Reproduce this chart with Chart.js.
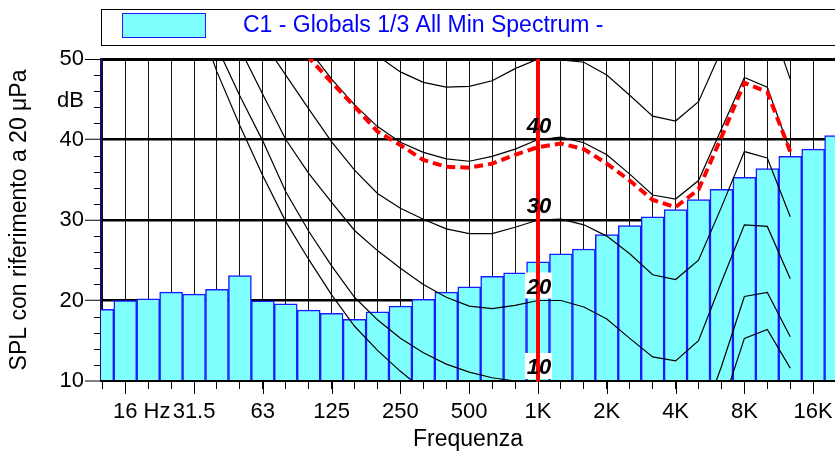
<!DOCTYPE html>
<html><head><meta charset="utf-8">
<script src="https://cdn.jsdelivr.net/npm/chart.js@4"></script>
<style>html,body{margin:0;padding:0;background:#fff;overflow:hidden}canvas{display:block}</style>
</head><body>
<canvas id="c" width="835" height="453"></canvas>
<script>
// ---- data (band index: 0 = 1 kHz, one step = 1/3 octave) ----
const barBands = [-19,-18,-17,-16,-15,-14,-13,-12,-11,-10,-9,-8,-7,-6,-5,-4,-3,-2,-1,0,1,2,3,4,5,6,7,8,9,10,11,12,13];
const barValues = [18.9,20.0,20.2,21.05,20.8,21.4,23.1,19.95,19.6,18.8,18.4,17.65,18.6,19.3,20.15,21.05,21.7,23.0,23.45,24.8,25.8,26.4,28.2,29.3,30.4,31.3,32.55,33.8,35.3,36.4,37.9,38.8,40.5];
const contourBands = [-17,-16,-15,-14,-13,-12,-11,-10,-9,-8,-7,-6,-5,-4,-3,-2,-1,0,1,2,3,4,5,6,7,8,9,10,11];
const threshold = [74.3,65.0,56.3,48.4,41.7,35.5,29.8,25.1,20.7,16.8,13.8,11.2,8.9,7.2,6.0,5.0,4.4,4.2,3.7,2.6,1.0,-1.2,-3.6,-3.9,-1.1,6.6,15.3,16.4,11.6];
const phon10 = [78,69.5,60.5,51.5,45.4,39.8,33.5,28.6,24.3,20.4,17.6,15.3,13.5,12.1,11.1,10.4,10.0,10.0,9.8,9.0,7.5,5.2,2.8,2.4,4.0,11.8,20.5,21.0,15.5];
const phon20 = [84,74,65,57.5,51.3,45.6,40.0,35.8,32.2,28.7,26.2,24.0,22.0,20.4,19.3,19.0,19.4,20.0,20.0,19.2,17.7,15.3,13.0,12.5,15.0,22.3,29.4,29.2,22.7];
const phon30 = [88,80,72,64,57.2,52.2,48.0,43.8,39.7,36.2,33.3,31.45,30.1,28.9,28.3,28.3,29.1,30.0,30.1,29.4,28.0,25.8,23.2,22.6,25.0,31.6,38.5,37.7,30.4];
const phon40 = [95,89,82,75,68,62,56.5,51.2,47.5,44.3,41.6,39.65,38.4,37.6,37.3,37.9,38.8,40.0,40.3,39.6,38.1,35.7,33.1,32.6,34.9,41.3,47.7,46.5,38.5];
const phon50 = [99,94,88,82,76,70,64.5,60,56,53,50.4,48.4,47.1,46.5,46.6,47.3,48.8,50.0,49.9,49.6,48.0,45.5,42.9,42.3,44.7,51.1,57.5,55.7,47.5];
const redCurve = [95,89,82,75,68,62,56,50.2,47.1,44.1,41.0,39.3,37.45,36.6,36.5,37.0,38.1,39.05,39.5,38.8,37.0,34.9,32.5,31.6,33.8,40.3,47.05,45.9,38.5];
const octaveTickBands = [-18,-15,-12,-9,-6,-3,0,3,6,9,12];
const octaveTickLabels = ['16 Hz','31.5','63','125','250','500','1K','2K','4K','8K','16K'];
const yTickValues = [10,20,30,40,50];
const phonLabels = [10,20,30,40];
const markerBand = 0; // 1 kHz marker
const legendText = 'C1 - Globals 1/3 All Min Spectrum -';

const FONT = "'Liberation Sans', Arial, sans-serif";
const X_MIN = -19.058, X_MAX = 12.952;

function pts(bands, vals){ return bands.map((b,i)=>({x:b, y:vals[i]})); }
function lineDs(label, vals){
  return {type:'line', label, data: pts(contourBands, vals), borderColor:'#000', borderWidth:1.2,
          pointRadius:0, fill:false, tension:0, clip:0, order:1};
}

const decor = {
  id:'decor',
  afterDatasetsDraw(chart){
    const {ctx, chartArea:a, scales:{x,y}} = chart;
    ctx.save();
    ctx.strokeStyle='#000'; ctx.lineWidth=2;
    const yb = y.getPixelForValue(10);
    ctx.beginPath(); ctx.moveTo(a.left, yb); ctx.lineTo(a.right, yb); ctx.stroke();
    const xm = x.getPixelForValue(markerBand);
    ctx.fillStyle='#fff';
    phonLabels.forEach(v=>{ const by = y.getPixelForValue(v)-7; ctx.fillRect(xm-13, by-21, 27, 26); });
    ctx.strokeStyle='#ff0000'; ctx.lineWidth=4;
    ctx.beginPath(); ctx.moveTo(xm, a.top); ctx.lineTo(xm, a.bottom+1); ctx.stroke();
    ctx.fillStyle='#000'; ctx.font='italic bold 22px '+FONT; ctx.textAlign='center'; ctx.textBaseline='alphabetic';
    phonLabels.forEach(v=>{ ctx.fillText(String(v), xm+1, y.getPixelForValue(v)-7); });
    ctx.restore();
  },
  afterDraw(chart){
    const {ctx, chartArea:a, scales:{x,y}} = chart;
    ctx.save();
    ctx.strokeStyle='#000'; ctx.lineWidth=1;
    for (let v=12; v<50; v+=2){ if (v%10===0) continue;
      const py = Math.round(y.getPixelForValue(v))+0.5;
      ctx.beginPath(); ctx.moveTo(a.left-7, py); ctx.lineTo(a.left, py); ctx.stroke(); }
    ctx.font='22px '+FONT; ctx.fillStyle='#000'; ctx.textBaseline='alphabetic';
    octaveTickBands.forEach((b,i)=>{
      const px = Math.round(x.getPixelForValue(b))+0.5;
      ctx.beginPath(); ctx.moveTo(px, a.bottom); ctx.lineTo(px, a.bottom+13); ctx.stroke();
      const t = octaveTickLabels[i];
      if (t.indexOf(' ')>0){
        const head = t.split(' ')[0];
        const w = ctx.measureText(head).width;
        ctx.textAlign='left'; ctx.fillText(t, x.getPixelForValue(b)-w/2, 418);
      } else { ctx.textAlign='center'; ctx.fillText(t, x.getPixelForValue(b), 418); }
    });
    ctx.textAlign='right'; ctx.fillText('dB', 84, 107);
    ctx.lineWidth=1; ctx.strokeStyle='#000';
    ctx.strokeRect(101.5, 9.5, 760, 36);
    const ds = chart.data.datasets.find(d=>d.type==='bar');
    ctx.fillStyle=ds.backgroundColor; ctx.fillRect(122,13,84,25);
    ctx.strokeStyle=ds.borderColor; ctx.strokeRect(122.5,13.5,83,24);
    ctx.fillStyle='#0000ff'; ctx.font='23px '+FONT; ctx.textAlign='left';
    ctx.fillText(ds.label, 243, 31.5);
    ctx.restore();
  }
};

new Chart(document.getElementById('c'), {
  type:'bar',
  data:{ datasets:[
    {type:'line', label:'Reference', data: pts(contourBands, redCurve), borderColor:'#ff0000', borderWidth:4,
     borderDash:[9,5], pointRadius:0, fill:false, tension:0, clip:0, order:0},
    lineDs('Threshold', threshold),
    lineDs('10 phon', phon10),
    lineDs('20 phon', phon20),
    lineDs('30 phon', phon30),
    lineDs('40 phon', phon40),
    lineDs('50 phon', phon50),
    {type:'bar', label: legendText, data: pts(barBands, barValues), backgroundColor:'#80ffff',
     borderColor:'#1a1aff', borderWidth:1.5, barPercentage:1, categoryPercentage:1, order:10}
  ]},
  options:{
    responsive:false, animation:false, events:[],
    layout:{padding:{left:0,right:0,top:59,bottom:0}},
    plugins:{legend:{display:false}, tooltip:{enabled:false}},
    scales:{
      x:{type:'linear', min:X_MIN, max:X_MAX, offset:false,
         afterFit(s){ s.height = 72; },
         ticks:{display:false, stepSize:1, includeBounds:false, autoSkip:false},
         grid:{offset:false, color:'#111', lineWidth:1, drawTicks:true, tickLength:8, tickColor:'#000', tickWidth:1},
         border:{display:true, color:'#000', width:2},
         title:{display:true, text:'Frequenza', color:'#000', font:{family:FONT, size:23}, padding:{top:0,bottom:0}}
      },
      y:{type:'linear', min:10, max:50,
         afterFit(s){ s.width = 101; },
         ticks:{stepSize:2, autoSkip:false, padding:1, color:'#000', font:{family:FONT, size:22},
                callback(v){ return yTickValues.includes(v) ? String(v) : ''; }},
         grid:{color:'#000',
               lineWidth(c){ const v=c.tick.value; return v===50?3:((v%10===0 && v>10)?2.5:0); },
               tickLength:16, tickWidth:1,
               tickColor(c){ return c.tick.value%10===0 ? '#000' : 'rgba(0,0,0,0)'; }},
         border:{display:true, color:'#101070', width:2},
         title:{display:true, text:'SPL con riferimento a 20 μPa', color:'#000', font:{family:FONT, size:23}, padding:{top:6,bottom:0}}
      }
    }
  },
  plugins:[decor]
});
</script>
</body></html>
